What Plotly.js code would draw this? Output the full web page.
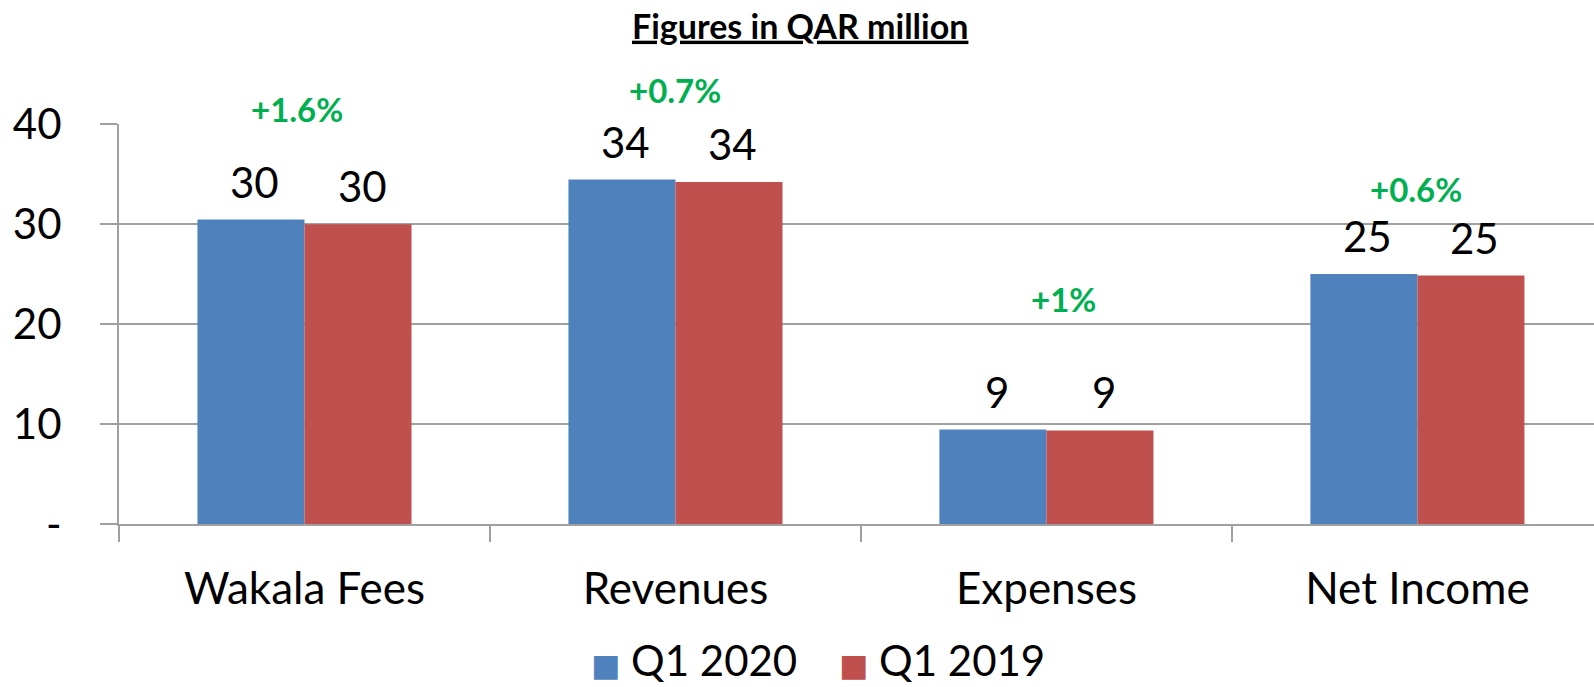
<!DOCTYPE html>
<html>
<head>
<meta charset="utf-8">
<script src="https://cdn.plot.ly/plotly-3.0.1.min.js"></script>
<style>
  html, body { margin: 0; padding: 0; background: #fff; }
  #chart { width: 1594px; height: 687px; }
</style>
</head>
<body>
<div id="chart"></div>
<script>
// Chart data
const categories = ['Wakala Fees', 'Revenues', 'Expenses', 'Net Income'];
const seriesNames = ['Q1 2020', 'Q1 2019'];
const q1_2020 = [30.45, 34.45, 9.45, 25.0];
const q1_2019 = [29.97, 34.21, 9.36, 24.85];
const changeLabels = ['+1.6%', '+0.7%', '+1%', '+0.6%'];
const yTickVals = [0, 10, 20, 30, 40];
const yTickText = ['-', '10', '20', '30', '40'];

const colors = ['#4F81BD', '#C0504D'];
const FONT = 'Lato, "Open Sans", sans-serif';
const bargap = 0.423;
const yRange = [0, 40];

const traces = [q1_2020, q1_2019].map((vals, i) => ({
    x: categories,
    y: vals,
    name: seriesNames[i],
    type: 'bar',
    marker: { color: colors[i] },
    showlegend: false,
    hoverinfo: 'x+y'
}));

const annotations = [];

// value labels above each bar
const half = (1 - bargap) / 4;
[q1_2020, q1_2019].forEach((vals, s) => {
    vals.forEach((v, i) => {
        annotations.push({
            x: i + (s === 0 ? -half : half),
            y: v,
            xref: 'x', yref: 'y',
            text: String(Math.round(v)),
            showarrow: false,
            yanchor: 'middle',
            yshift: 38,
            xshift: 4,
            font: { family: FONT, size: 42, color: '#000' }
        });
    });
});

// green change labels (some sit above the top of the axis, so use paper y)
const changeY = [41.5, 43.4, 22.5, 33.5];
const changeShift = [-7, 0, 17, -1];
changeLabels.forEach((t, i) => {
    annotations.push({
        x: i, y: (changeY[i] - yRange[0]) / (yRange[1] - yRange[0]),
        xref: 'x', yref: 'paper',
        text: '<b>' + t + '</b>',
        showarrow: false,
        xshift: changeShift[i],
        yanchor: 'middle',
        font: { family: FONT, size: 33, color: '#00B050' }
    });
});

// legend
const legendX = [0.3185, 0.4865];
seriesNames.forEach((n, i) => {
    annotations.push({
        x: legendX[i], y: -0.34, xref: 'paper', yref: 'paper',
        xanchor: 'left', yanchor: 'middle',
        text: '<span style="color:' + colors[i] + ';font-family:DejaVu Sans;font-size:31px">■</span> ' + n,
        showarrow: false,
        font: { family: FONT, size: 42, color: '#000' }
    });
});

const layout = {
    width: 1594,
    height: 687,
    margin: { l: 119, r: 0, t: 124, b: 163 },
    paper_bgcolor: '#fff',
    plot_bgcolor: '#fff',
    barmode: 'group',
    bargap: bargap,
    bargroupgap: 0,
    font: { family: FONT, color: '#000' },
    title: {
        text: '<b><u>Figures in QAR million</u></b>',
        x: 0.502, xref: 'container', xanchor: 'center',
        y: 0.961, yref: 'container', yanchor: 'middle',
        font: { family: FONT, size: 34, color: '#000' }
    },
    xaxis: {
        type: 'category',
        range: [-0.5, 3.476],
        showline: true, linecolor: '#a0a0a0', linewidth: 2,
        ticks: 'outside', tickson: 'boundaries', ticklen: 16, tickwidth: 2, tickcolor: '#a0a0a0',
        showgrid: false, zeroline: false,
        ticklabelstandoff: 25,
        tickfont: { family: FONT, size: 44, color: '#000' }
    },
    yaxis: {
        range: yRange,
        tickvals: yTickVals, ticktext: yTickText,
        showline: true, linecolor: '#a0a0a0', linewidth: 2,
        showgrid: true, gridcolor: '#a0a0a0', gridwidth: 2,
        ticks: 'outside', ticklen: 17, tickwidth: 2, tickcolor: '#a0a0a0',
        zeroline: false,
        ticklabelstandoff: 30,
        tickfont: { family: FONT, size: 42, color: '#000' }
    },
    annotations: annotations
};

Plotly.newPlot('chart', traces, layout, { displayModeBar: false, staticPlot: true });
</script>
</body>
</html>
